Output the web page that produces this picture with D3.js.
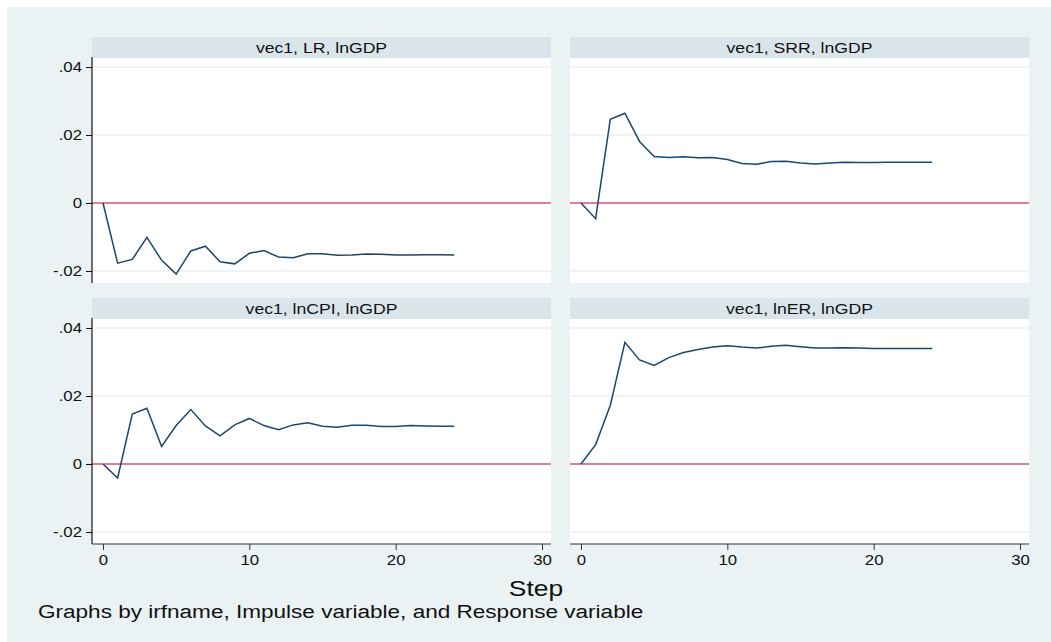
<!DOCTYPE html>
<html>
<head>
<meta charset="utf-8">
<style>
    body { margin: 0; background: #fff; }
    text { font-family: "Liberation Sans", Arial, sans-serif; }
</style>
</head>
<body>
<script src="https://d3js.org/d3.v7.min.js"></script>
<script>
    // impulse response data
    let steps = [0, 1, 2, 3, 4, 5, 6, 7, 8, 9, 10, 11, 12, 13, 14, 15, 16, 17, 18, 19, 20, 21, 22, 23, 24]

    let lr_resp  = [0, -0.0177, -0.0166, -0.0101, -0.0168, -0.0209, -0.0141, -0.0127, -0.0173, -0.0179, -0.0148, -0.0140, -0.0159, -0.0161, -0.0149, -0.0149, -0.0154, -0.0153, -0.0150, -0.0151, -0.0153, -0.0153, -0.0152, -0.0152, -0.0153]
    let srr_resp = [0, -0.0046, 0.0246, 0.0264, 0.0181, 0.0137, 0.0134, 0.0136, 0.0133, 0.0134, 0.0128, 0.0116, 0.0114, 0.0122, 0.0123, 0.0118, 0.0115, 0.0118, 0.0120, 0.0119, 0.0119, 0.0120, 0.0120, 0.0120, 0.0120]
    let cpi_resp = [0, -0.0041, 0.0147, 0.0164, 0.0052, 0.0113, 0.0160, 0.0112, 0.0083, 0.0115, 0.0134, 0.0113, 0.0101, 0.0115, 0.0121, 0.0111, 0.0108, 0.0114, 0.0114, 0.0110, 0.0110, 0.0113, 0.0112, 0.0111, 0.0111]
    let er_resp  = [0, 0.0057, 0.0172, 0.0358, 0.0306, 0.0290, 0.0313, 0.0328, 0.0337, 0.0344, 0.0348, 0.0344, 0.0341, 0.0346, 0.0349, 0.0345, 0.0341, 0.0341, 0.0342, 0.0341, 0.0340, 0.0340, 0.0340, 0.0340, 0.0340]

    let titles = ["vec1, LR, lnGDP", "vec1, SRR, lnGDP", "vec1, lnCPI, lnGDP", "vec1, lnER, lnGDP"]
    let series = [lr_resp, srr_resp, cpi_resp, er_resp]

    let y_ticks = [-0.02, 0, 0.02, 0.04]
    let y_labels = ["-.02", "0", ".02", ".04"]
    let x_ticks = [0, 10, 20, 30]

    let bg_gray = "rgb(234,242,243)",
        strip_gray = "rgb(217,229,235)",
        line_navy = "rgb(26,71,111)",
        zero_red = "rgb(208,8,50)"

    // the picture is stretched sideways, so text is too
    let stretch = 1.2

    let svg = d3.select("body").append("svg")
                               .attr("width", 1051).attr("height", 642)

    svg.append("rect").attr("x", 0).attr("y", 0).attr("width", 1051).attr("height", 642).attr("fill", "#fff")
    svg.append("rect").attr("x", 7).attr("y", 7).attr("width", 1044).attr("height", 635).attr("fill", bg_gray)

    let draw_text = (parent, x, y, size, anchor, str) => {
        parent.append("g").attr("transform", `translate(${x},${y})`)
              .append("text").attr("transform", `scale(${stretch},1)`)
              .attr("text-anchor", anchor).attr("font-size", size).attr("fill", "#111").text(str)
    }

    let col_x = [92, 570], row_y = [37, 298]
    let plot_w = 459, strip_h = 21, plot_h = 225

    for(let i=0;i<4;i++){
        let col = i % 2, row = Math.floor(i / 2)
        let left = col_x[col], top = row_y[row]
        let g = svg.append("g").attr("transform", `translate(${left},${top})`)

        // strip header
        g.append("rect").attr("x", 0).attr("y", 0).attr("width", plot_w).attr("height", strip_h).attr("fill", strip_gray)
        draw_text(g, plot_w/2, 15.5, 14.7, "middle", titles[i])

        let p = g.append("g").attr("transform", `translate(0,${strip_h})`)
        p.append("rect").attr("x", 0).attr("y", 0).attr("width", plot_w).attr("height", plot_h).attr("fill", "#fff")

        let x = d3.scaleLinear().domain([-0.752, 30.615]).range([0, plot_w])
        let y = d3.scaleLinear().domain([-0.02353, 0.04265]).range([plot_h, 0])

        // grid
        p.selectAll(".grid").data(y_ticks).enter().append("line")
         .attr("x1", 0).attr("x2", plot_w).attr("y1", d => y(d)).attr("y2", d => y(d))
         .attr("stroke", bg_gray).attr("stroke-width", 1.5)

        // zero line
        p.append("line").attr("x1", 0).attr("x2", plot_w).attr("y1", y(0)).attr("y2", y(0))
         .attr("stroke", zero_red).attr("stroke-width", 1.2)

        // response line
        let line = d3.line().x((d, j) => x(steps[j])).y(d => y(d))
        p.append("path").datum(series[i]).attr("d", line)
         .attr("fill", "none").attr("stroke", line_navy).attr("stroke-width", 1.5)

        if(col == 0){
            let ay = d3.axisLeft(y).tickValues(y_ticks).tickFormat((d, j) => y_labels[j]).tickSize(6).tickPadding(4)
            let ag = p.append("g").call(ay)
            ag.select(".domain").attr("d", `M0,${-1}V${plot_h}`).attr("stroke", "#111").attr("stroke-width", 1.2)
            ag.selectAll(".tick line").attr("stroke", "#111")
            ag.selectAll(".tick text").attr("font-size", 14).attr("fill", "#111")
              .attr("font-family", "Liberation Sans, Arial, sans-serif")
              .attr("x", -10 / stretch).attr("transform", `scale(${stretch},1)`)
        }
        if(row == 1){
            let ax = d3.axisBottom(x).tickValues(x_ticks).tickFormat(d3.format("d")).tickSize(6).tickPadding(5)
            let ag = p.append("g").attr("transform", `translate(0,${plot_h})`).call(ax)
            ag.select(".domain").attr("d", `M0,0H${plot_w}`).attr("stroke", "#333").attr("stroke-width", 1.2)
            ag.selectAll(".tick line").attr("stroke", "#333")
            ag.selectAll(".tick text").attr("font-size", 14).attr("fill", "#111")
              .attr("font-family", "Liberation Sans, Arial, sans-serif")
              .attr("transform", `scale(${stretch},1)`)
        }
    }

    draw_text(svg, 536, 596, 22, "middle", "Step")
    draw_text(svg, 38, 618, 18.8, "start", "Graphs by irfname, Impulse variable, and Response variable")
</script>
</body>
</html>
